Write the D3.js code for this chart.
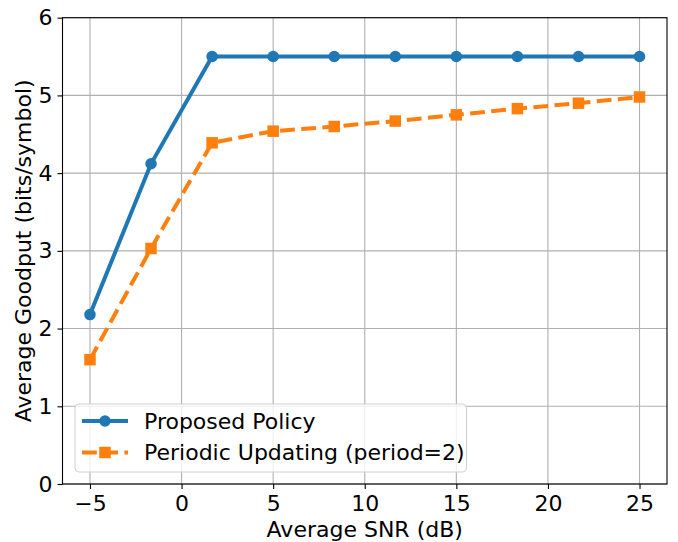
<!DOCTYPE html>
<html><head><meta charset="utf-8">
<script src="https://cdn.jsdelivr.net/npm/d3@7"></script>
<style>body{margin:0;background:#fff}svg{display:block}text{font-family:"DejaVu Sans",sans-serif}</style>
</head><body>
<svg id="c" width="678" height="542"></svg>
<script>
const snr = [-5, -1.667, 1.667, 5, 8.333, 11.667, 15, 18.333, 21.667, 25];
const proposed = [2.18, 4.12, 5.5, 5.5, 5.5, 5.5, 5.5, 5.5, 5.5, 5.5];
const periodic = [1.60, 3.03, 4.39, 4.54, 4.60, 4.67, 4.75, 4.83, 4.90, 4.98];
const xTicks = [-5, 0, 5, 10, 15, 20, 25];
const yTicks = [0, 1, 2, 3, 4, 5, 6];
const seriesNames = ["Proposed Policy", "Periodic Updating (period=2)"];

const FS = 22;
const svg = d3.select("#c");
const L = 62.5, R = 667, T = 17.7, B = 484;
const x = d3.scaleLinear().domain([-6.5, 26.5]).range([L, R]);
const y = d3.scaleLinear().domain([0, 6]).range([B, T]);

// grid
const g = svg.append("g");
g.selectAll(".gx").data(xTicks).enter().append("line")
  .attr("x1", d => x(d)).attr("x2", d => x(d)).attr("y1", T).attr("y2", B)
  .attr("stroke", "#b0b0b0").attr("stroke-width", 1.1);
g.selectAll(".gy").data(yTicks).enter().append("line")
  .attr("x1", L).attr("x2", R).attr("y1", d => y(d)).attr("y2", d => y(d))
  .attr("stroke", "#b0b0b0").attr("stroke-width", 1.1);

// axes
const xa = svg.append("g").attr("transform", `translate(0,${B})`)
  .call(d3.axisBottom(x).tickValues(xTicks).tickSize(5).tickPadding(6)
    .tickFormat(d => d < 0 ? "\u2212" + Math.abs(d) : String(d)));
const ya = svg.append("g").attr("transform", `translate(${L},0)`)
  .call(d3.axisLeft(y).tickValues(yTicks).tickSize(5).tickPadding(5).tickFormat(d3.format("d")));
[xa, ya].forEach(a => {
  a.attr("font-size", FS).attr("font-family", "DejaVu Sans");
  a.select(".domain").remove();
  a.selectAll("text").attr("fill", "#000");
  a.selectAll("line").attr("stroke", "#000").attr("stroke-width", 1.1);
});
svg.append("rect").attr("x", L).attr("y", T).attr("width", R - L).attr("height", B - T)
  .attr("fill", "none").attr("stroke", "#000").attr("stroke-width", 1.1);

// labels
svg.append("text").attr("x", (L + R) / 2).attr("y", 537).attr("text-anchor", "middle")
  .attr("font-size", FS).text("Average SNR (dB)");
svg.append("text").attr("transform", `translate(23,${(T + B) / 2}) rotate(-90)`).attr("text-anchor", "middle")
  .attr("dy", "0.35em").attr("font-size", FS).text("Average Goodput (bits/symbol)");

const line = d3.line().x(d => x(d[0])).y(d => y(d[1]));
const blue = "#1f77b4", orange = "#ff7f0e";
const dP = snr.map((s, i) => [s, proposed[i]]);
const dQ = snr.map((s, i) => [s, periodic[i]]);

svg.append("path").datum(dQ).attr("d", line).attr("fill", "none").attr("stroke", orange)
  .attr("stroke-width", 4).attr("stroke-dasharray", "14.8,6.4");
svg.selectAll(".sq").data(dQ).enter().append("rect")
  .attr("x", d => x(d[0]) - 5.75).attr("y", d => y(d[1]) - 5.75).attr("width", 11.5).attr("height", 11.5).attr("fill", orange);

svg.append("path").datum(dP).attr("d", line).attr("fill", "none").attr("stroke", blue)
  .attr("stroke-width", 4);
svg.selectAll(".ci").data(dP).enter().append("circle")
  .attr("cx", d => x(d[0])).attr("cy", d => y(d[1])).attr("r", 5.75).attr("fill", blue);

// legend
const lg = svg.append("g");
lg.append("rect").attr("x", 75).attr("y", 404).attr("width", 391.5).attr("height", 68).attr("rx", 4)
  .attr("fill", "#fff").attr("fill-opacity", 0.8).attr("stroke", "#d0d0d0").attr("stroke-width", 1);
const items = [[seriesNames[0], blue, null, "c"], [seriesNames[1], orange, "14.8,6.4", "s"]];
items.forEach((it, i) => {
  const yy = 421 + i * 31.5;
  lg.append("line").attr("x1", 82).attr("x2", 128).attr("y1", yy).attr("y2", yy)
    .attr("stroke", it[1]).attr("stroke-width", 4).attr("stroke-dasharray", it[2]);
  if (it[3] === "c") lg.append("circle").attr("cx", 105).attr("cy", yy).attr("r", 5.75).attr("fill", it[1]);
  else lg.append("rect").attr("x", 99.25).attr("y", yy - 5.75).attr("width", 11.5).attr("height", 11.5).attr("fill", it[1]);
  lg.append("text").attr("x", 144).attr("y", yy + 7.5).attr("font-size", FS).text(it[0]);
});
</script>
</body></html>
